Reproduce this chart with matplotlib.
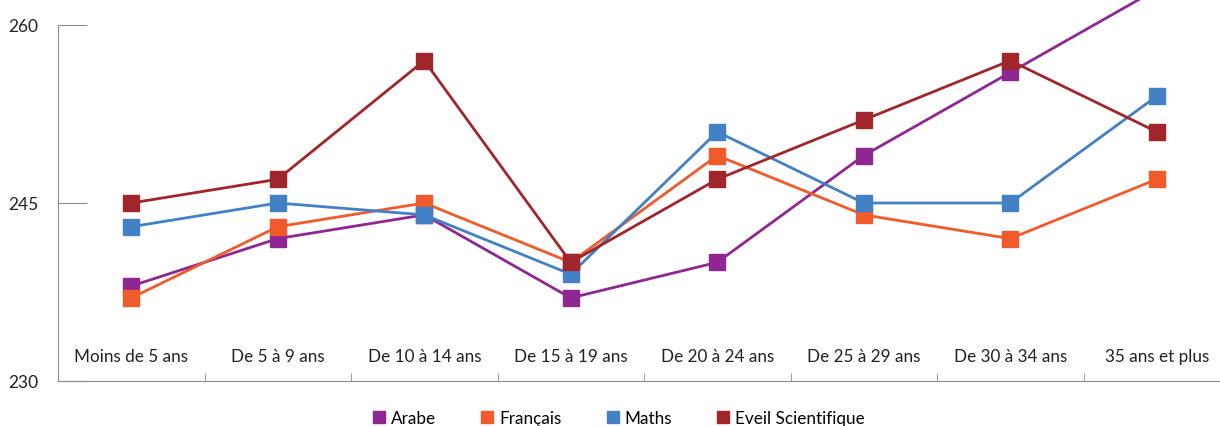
import matplotlib.pyplot as plt
from matplotlib.lines import Line2D

plt.rcParams['font.family'] = ['Lato', 'DejaVu Sans']

categories = ["Moins de 5 ans", "De 5 à 9 ans", "De 10 à 14 ans", "De 15 à 19 ans",
              "De 20 à 24 ans", "De 25 à 29 ans", "De 30 à 34 ans", "35 ans et plus"]
arabe = [238, 242, 244, 237, 240, 249, 256, 263]
francais = [237, 243, 245, 240, 249, 244, 242, 247]
maths = [243, 245, 244, 239, 251, 245, 245, 254]
eveil = [245, 247, 257, 240, 247, 252, 257, 251]

series = [("Arabe", arabe, "#8E2791"),
          ("Français", francais, "#F15A2B"),
          ("Maths", maths, "#4281C5"),
          ("Eveil Scientifique", eveil, "#A0262B")]

fig = plt.figure(figsize=(12.2, 4.27), dpi=100)
ax = fig.add_axes([58 / 1220, 1 - 382 / 427, (1230 - 58) / 1220, (382 - 26) / 427])

x = list(range(len(categories)))
for name, vals, col in series:
    ax.plot(x, vals, color=col, lw=2, marker="s", markersize=11.5,
            clip_on=False, label=name, zorder=3)

ax.set_xlim(-0.5, 7.5)
ax.set_ylim(230, 260)
ax.set_yticks([230, 245, 260])
ax.tick_params(axis="y", direction="in", length=21, color="#8c8c8c",
               labelsize=12.5, pad=14, labelcolor="#222222")
ax.set_xticks(x)
ax.set_xticklabels(categories)
ax.set_xticks([i + 0.5 for i in range(7)], minor=True)
ax.tick_params(axis="x", which="major", length=0, pad=-24, labelsize=12.3,
               labelcolor="#222222")
ax.tick_params(axis="x", which="minor", direction="in", length=6, color="#8c8c8c")
for s in ["top", "right"]:
    ax.spines[s].set_visible(False)
for s in ["left", "bottom"]:
    ax.spines[s].set_color("#8c8c8c")

handles = [Line2D([], [], linestyle="none", marker="s", markersize=9, color=c)
           for _, _, c in series]
fig.legend(handles, [n for n, _, _ in series], loc="center", ncol=4,
           bbox_to_anchor=(0.507, 1 - 419 / 427), frameon=False, fontsize=12.3,
           handlelength=0.8, handletextpad=0.3, columnspacing=2.6)

fig.savefig("out.png", dpi=100)
